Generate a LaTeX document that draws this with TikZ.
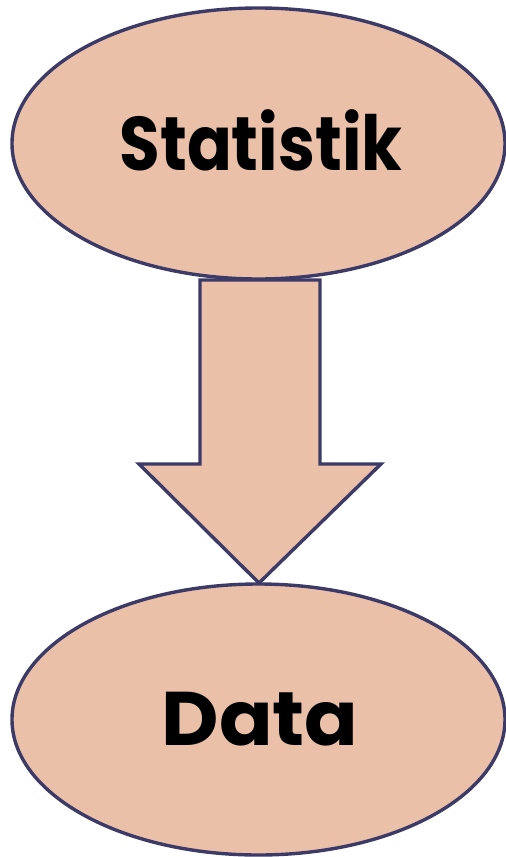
\documentclass[tikz,border=0pt]{standalone}
\usepackage{fontspec}
\newfontfamily\geofont{Poppins}
\definecolor{fillc}{HTML}{EBC0A8}
\definecolor{linec}{HTML}{3C3A66}
\begin{document}
\begin{tikzpicture}[x=1pt,y=-1pt,
  shapebox/.style={fill=fillc,draw=linec,line width=3.4pt},
  lbl/.style={font=\geofont\bfseries\fontsize{76}{86}\selectfont,text=black}]
\useasboundingbox (0,0) rectangle (506,857);
\draw[shapebox] (258.5,143.5) ellipse [x radius=246.5,y radius=135.5];
\draw[shapebox] (258.5,719.5) ellipse [x radius=246.5,y radius=135.5];
\node[lbl,xscale=0.87] (s) at (261,140) {Statistik};
\node[lbl,xscale=1.04] (d) at (260,719) {Data};
\draw[shapebox,line join=miter] (200,280) -- (320,280) -- (320,464) -- (381,464) -- (259,583) -- (139,464) -- (200,464) -- cycle;
\end{tikzpicture}
\end{document}
